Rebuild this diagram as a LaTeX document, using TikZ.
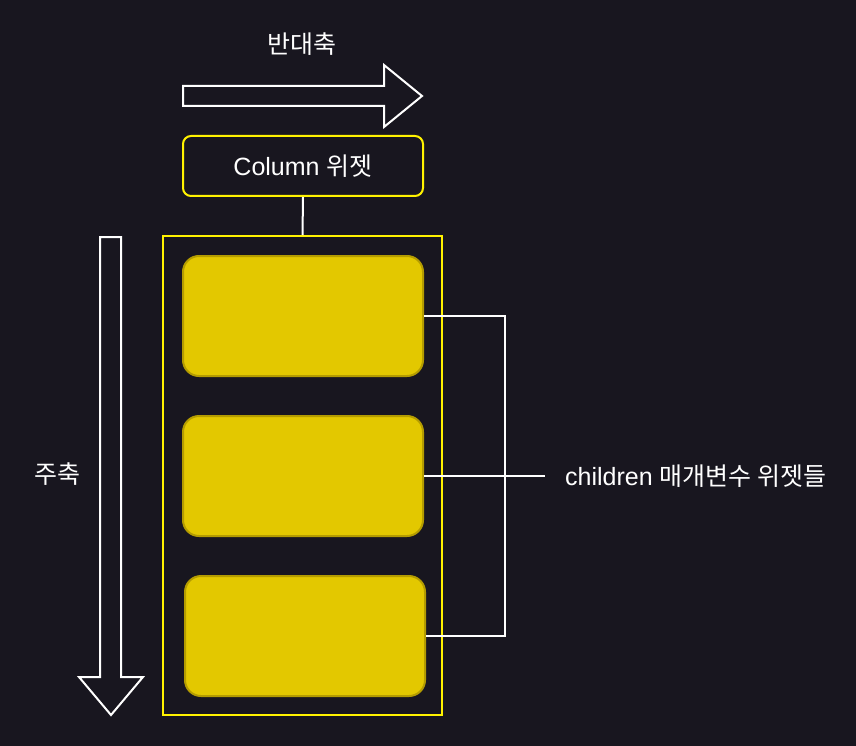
\documentclass[tikz,border=0pt]{standalone}
\usepackage{fontspec}
\setmainfont{Liberation Sans}
\newfontfamily\kr{Noto Sans CJK KR}
\begin{document}
\begin{tikzpicture}[x=1pt,y=-1pt,
  txt/.style={text=white,inner sep=0pt,font=\fontsize{25}{29}\selectfont},
  ybox/.style={draw=yellow,line width=2pt},
  child/.style={fill=childfill,draw=childdraw,line width=2pt,rounded corners=16pt,minimum width=240pt,minimum height=120pt,inner sep=0pt},
  wline/.style={draw=white,line width=2pt},
  bigarrow/.style={draw=white,line width=2pt,line join=miter}]
\definecolor{bg}{RGB}{24,22,31}
\definecolor{childfill}{RGB}{227,200,0}
\definecolor{childdraw}{RGB}{180,156,0}
\fill[bg] (0,0) rectangle (856,746);
\useasboundingbox (0,0) rectangle (856,746);
% top arrow (cross axis)
\draw[bigarrow] (183,86) -- (384,86) -- (384,65) -- (422,96) -- (384,127) -- (384,106) -- (183,106) -- cycle;
\node[txt] (cross) at (302,44) {\kr 반대축};
% left arrow (main axis)
\draw[bigarrow] (100,237) -- (121,237) -- (121,677) -- (143,677) -- (111,715) -- (79,677) -- (100,677) -- cycle;
\node[txt] (main) at (57,474) {\kr 주축};
% column node
\node[ybox,rounded corners=8pt,minimum width=240pt,minimum height=60pt,inner sep=0pt,txt] (col) at (303,166) {Column {\kr 위젯}};
% outer rect
\node[ybox,minimum width=279pt,minimum height=479pt,inner sep=0pt] (outer) at (302.5,475.5) {};
\draw[wline] (col.south) -- (outer.north);
% children
\node[child] (b1) at (303,316) {};
\node[child] (b2) at (303,476) {};
\node[child] (b3) at (305,636) {};
% bracket
\coordinate (m) at (545,476);
\draw[wline] (b1.east) -- (505,316) -- (505,636) -- (b3.east);
\draw[wline] (b2.east) -- (m);
\node[txt,anchor=west] (lab) at (565,476) {children {\kr 매개변수 위젯들}};
\end{tikzpicture}
\end{document}
